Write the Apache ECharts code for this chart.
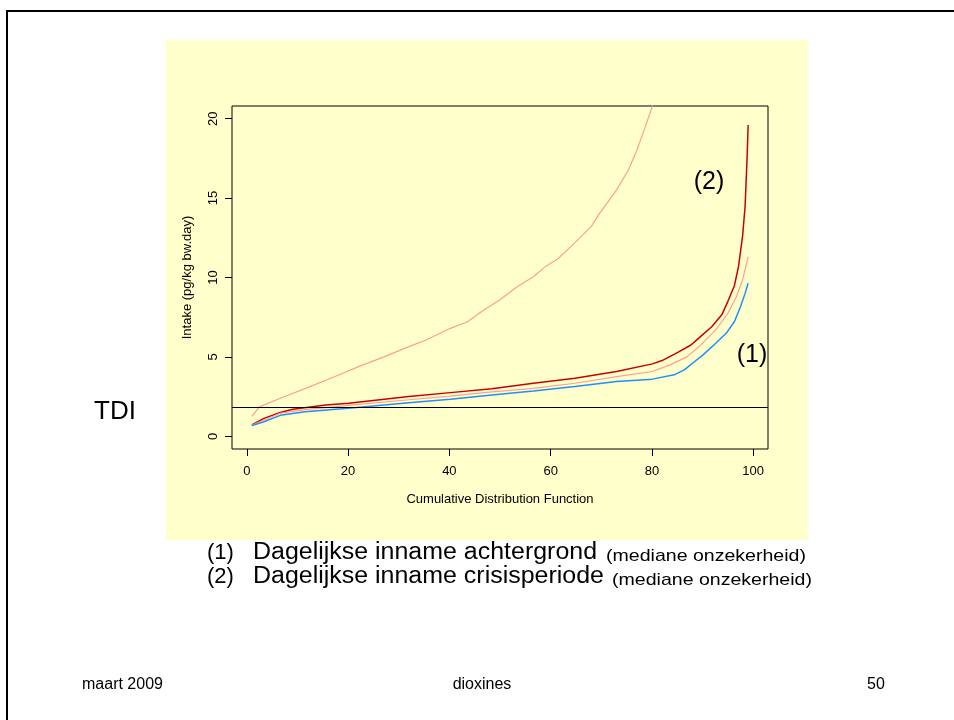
<!DOCTYPE html>
<html>
<head>
<meta charset="utf-8">
<script src="https://cdn.jsdelivr.net/npm/echarts@6/dist/echarts.min.js"></script>
<style>
  html, body { margin: 0; padding: 0; background: #fff; }
  #chart { width: 954px; height: 720px; }
</style>
</head>
<body>
<div id="chart"></div>
<script>
// cumulative distribution (%) and intake values
var cdfCrisis    = [1, 2.5, 6.6, 11.5, 17.3, 22.2, 27.1, 32, 35.3, 40.2, 43.5, 46.8, 50, 53.3, 56.6, 59, 61.5, 64.8, 68, 69.7, 73, 75.4, 77, 78.7, 80.1, 81];
var intakeCrisis = [1.25, 1.85, 2.4, 3.0, 3.75, 4.4, 5.0, 5.65, 6.05, 6.8, 7.2, 7.95, 8.6, 9.4, 10.05, 10.7, 11.2, 12.2, 13.2, 14.05, 15.5, 16.8, 18.0, 19.5, 20.8, 21.8];

var cdfBg       = [1, 3.4, 6.6, 9.1, 15.6, 20.1, 32, 40.2, 48.4, 56.6, 64.8, 73, 80.1, 82, 85.2, 87.7, 89.3, 91.8, 93.8, 95, 96.3, 97.1, 97.9, 98.4, 98.8, 99];
var intakeHigh  = [0.72, 1.13, 1.5, 1.7, 1.97, 2.08, 2.5, 2.75, 3.0, 3.34, 3.65, 4.08, 4.56, 4.77, 5.3, 5.75, 6.2, 6.9, 7.65, 8.5, 9.5, 10.7, 12.6, 14.5, 17.6, 19.6];

var cdfMid      = [1, 3.4, 6.6, 11.5, 20.1, 32, 40.2, 48.4, 56.6, 64.8, 73, 80.1, 83.6, 86.9, 89.3, 92.6, 95, 96.7, 97.9, 99];
var intakeMid   = [0.7, 1.03, 1.45, 1.68, 1.95, 2.3, 2.53, 2.8, 3.02, 3.34, 3.76, 4.08, 4.5, 5.0, 5.65, 6.7, 7.75, 8.8, 9.85, 11.3];

var cdfLow      = [1, 3.4, 6.6, 11.5, 20.1, 32, 40.2, 48.4, 56.6, 64.8, 73, 80.1, 84.4, 86.4, 88, 90.1, 92.6, 94.7, 96.3, 97.5, 98.4, 99];
var intakeLow   = [0.67, 0.92, 1.32, 1.55, 1.76, 2.12, 2.33, 2.6, 2.86, 3.13, 3.45, 3.6, 3.87, 4.18, 4.6, 5.13, 5.86, 6.5, 7.23, 8.17, 9.0, 9.64];

var tdi = 1.85;
var xTicks = [0, 20, 40, 60, 80, 100];
var yTicks = [0, 5, 10, 15, 20];

function pairs(xs, ys) {
    return xs.map(function (x, i) { return [x, ys[i]]; });
}

var font = '"Liberation Sans", Arial, sans-serif';
var chart = echarts.init(document.getElementById('chart'));

// slide texts below the chart
function slideText(x, y, txt, size, sx) {
    return { type: 'text', x: x, y: y, scaleX: sx || 1,
             style: { text: txt, font: size + 'px ' + font, fill: '#000', verticalAlign: 'middle' } };
}

var option = {
    backgroundColor: '#ffffff',
    animation: false,
    textStyle: { fontFamily: font },
    graphic: [
        { type: 'rect', z: -10, shape: { x: 7, y: 11, width: 1000, height: 1000 },
          style: { fill: 'none', stroke: '#000', lineWidth: 2 } },
        { type: 'rect', z: -9, shape: { x: 166, y: 40, width: 642, height: 500 },
          style: { fill: '#ffffcc' } },
        { type: 'text', x: 115, y: 412, style: { text: 'TDI', font: '26px ' + font, fill: '#000', align: 'center', verticalAlign: 'middle' } },
        { type: 'text', x: 709, y: 182, style: { text: '(2)', font: '25px ' + font, fill: '#000', align: 'center', verticalAlign: 'middle' } },
        { type: 'text', x: 752, y: 355, style: { text: '(1)', font: '25px ' + font, fill: '#000', align: 'center', verticalAlign: 'middle' } },
        slideText(207, 553, '(1)', 22, 1),
        slideText(253, 553, 'Dagelijkse inname achtergrond', 23, 1.085),
        slideText(606, 556, '(mediane onzekerheid)', 17, 1.15),
        slideText(207, 577, '(2)', 22, 1),
        slideText(253, 577, 'Dagelijkse inname crisisperiode', 23, 1.085),
        slideText(612, 580, '(mediane onzekerheid)', 17, 1.15),
        { type: 'text', x: 82, y: 685, style: { text: 'maart 2009', font: '16px ' + font, fill: '#000', verticalAlign: 'middle' } },
        { type: 'text', x: 482, y: 685, style: { text: 'dioxines', font: '16px ' + font, fill: '#000', align: 'center', verticalAlign: 'middle' } },
        { type: 'text', x: 876, y: 685, style: { text: '50', font: '16px ' + font, fill: '#000', align: 'center', verticalAlign: 'middle' } }
    ],
    grid: {
        left: 232, right: 186, top: 106, bottom: 271,
        show: true, borderColor: '#000', borderWidth: 1, backgroundColor: 'transparent'
    },
    xAxis: {
        type: 'value', min: -2.92, max: 102.92,
        name: 'Cumulative Distribution Function', nameLocation: 'middle', nameGap: 44,
        nameTextStyle: { fontSize: 13, color: '#000', fontFamily: font },
        axisLine: { show: false, onZero: false },
        axisTick: { show: true, inside: false, length: 7, customValues: xTicks, lineStyle: { color: '#000' } },
        axisLabel: { customValues: xTicks, fontSize: 13, color: '#000', margin: 16, fontFamily: font },
        splitLine: { show: false }
    },
    yAxis: {
        type: 'value', min: -0.8, max: 20.8,
        name: 'Intake (pg/kg bw.day)', nameLocation: 'middle', nameGap: 38, nameRotate: 90,
        nameTextStyle: { fontSize: 13, color: '#000', fontFamily: font },
        axisLine: { show: false, onZero: false },
        axisTick: { show: true, inside: false, length: 7, customValues: yTicks, lineStyle: { color: '#000' } },
        axisLabel: { customValues: yTicks, rotate: 90, fontSize: 13, color: '#000', margin: 12, fontFamily: font },
        splitLine: { show: false }
    },
    series: [
        {
            name: 'crisis', type: 'line', showSymbol: false, clip: true,
            lineStyle: { color: '#ff9e94', width: 1.2 },
            data: pairs(cdfCrisis, intakeCrisis),
            markLine: {
                silent: true, symbol: 'none', label: { show: false },
                lineStyle: { color: '#000', width: 1, type: 'solid' },
                data: [{ yAxis: tdi }]
            }
        },
        {
            name: 'hoog', type: 'line', showSymbol: false, clip: true,
            lineStyle: { color: '#c80000', width: 1.5 },
            data: pairs(cdfBg, intakeHigh)
        },
        {
            name: 'mediaan', type: 'line', showSymbol: false, clip: true,
            lineStyle: { color: '#ff9e94', width: 1.2 },
            data: pairs(cdfMid, intakeMid)
        },
        {
            name: 'laag', type: 'line', showSymbol: false, clip: true,
            lineStyle: { color: '#1e8fff', width: 1.5 },
            data: pairs(cdfLow, intakeLow)
        }
    ]
};
chart.setOption(option);
</script>
</body>
</html>
